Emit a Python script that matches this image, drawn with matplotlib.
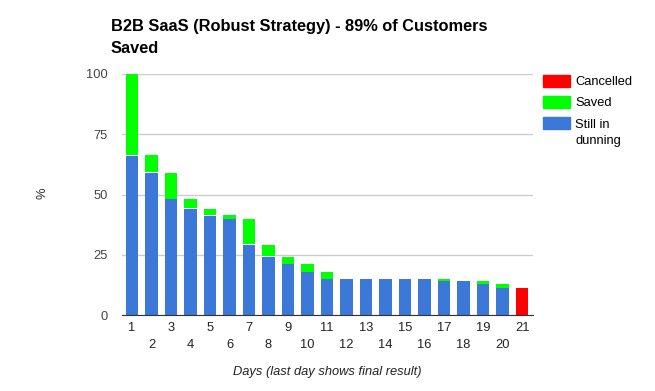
import numpy as np
import matplotlib as mpl
import matplotlib.pyplot as plt
from matplotlib.patches import Patch

mpl.rc('font', **{'family': 'sans-serif', 'sans-serif': ['Liberation Sans', 'DejaVu Sans']})
mpl.rcParams['font.size'] = 9.3

colours = {
    "blue": "#3c78d8",
    "green": "#00ff00",
    "red": "#ff0000",
    "grid": "#cccccc",
    "text": "#222222",
}

days = np.arange(1, 22)
still_in_dunning = [66, 59, 48, 44, 41, 39.7, 29, 24, 21, 17.7, 14.8, 14.8, 14.8, 14.8, 14.8,
                    14.8, 14, 14, 12.7, 11, 0]
saved = [34, 7, 10.6, 4, 2.7, 1.3, 10.6, 4.7, 2.8, 3.2, 2.8, 0, 0, 0, 0,
         0, 0.8, 0, 1.1, 1.6, 0]
cancelled = [0] * 20 + [11]
y_ticks = [0, 25, 50, 75, 100]

fig = plt.figure(figsize=(6.55, 3.91), dpi=100)
ax = fig.add_axes([122 / 655, 1 - 315 / 391, 411 / 655, 241 / 391])

w = 0.63
ax.bar(days, still_in_dunning, width=w, color=colours["blue"], zorder=3)
ax.bar(days, saved, width=w, bottom=np.array(still_in_dunning) + 0.3,
       color=colours["green"], zorder=3)
ax.bar(days, cancelled, width=w, color=colours["red"], zorder=3)

ax.set_xlim(0.49, 21.56)
ax.set_ylim(0, 100)
ax.set_yticks(y_ticks)
ax.grid(axis='y', color=colours["grid"], linewidth=1, zorder=0)
for s in ['top', 'right', 'left']:
    ax.spines[s].set_visible(False)
ax.spines['bottom'].set_color('#333333')
ax.spines['bottom'].set_zorder(4)

# odd days on first row, even days on second row
ax.set_xticks(days[0::2])
ax.set_xticks(days[1::2], minor=True)
ax.set_xticklabels([str(d) for d in days[0::2]])
ax.set_xticklabels([str(d) for d in days[1::2]], minor=True)
ax.tick_params(axis='x', which='major', length=0, pad=5, labelcolor=colours["text"])
ax.tick_params(axis='x', which='minor', length=0, pad=17, labelcolor=colours["text"])
ax.tick_params(axis='y', length=0, pad=10, labelcolor='#444444')

ax.set_xlabel("Days (last day shows final result)", style='italic', labelpad=11,
              color=colours["text"])
fig.text(43 / 655, 1 - 193 / 391, "%", rotation=90, ha='center', va='center',
         color=colours["text"])

fig.text(111 / 655, 1 - 19 / 391, "B2B SaaS (Robust Strategy) - 89% of Customers\nSaved",
         ha='left', va='top', fontsize=11.8, fontweight='bold', linespacing=1.55)

handles = [Patch(color=colours["red"]), Patch(color=colours["green"]), Patch(color=colours["blue"])]
labels = ["Cancelled", "Saved", "Still in"]
leg = fig.legend(handles, labels, loc='upper left', bbox_to_anchor=(543 / 655, 1 - 75 / 391),
                 frameon=False, handlelength=2.1, handleheight=1.0, handletextpad=0.4,
                 labelspacing=0.62, borderaxespad=0, borderpad=0)
# legend label wraps onto a second line
fig.text(576 / 655, 1 - 141 / 391, "dunning", ha='left', va='center')

fig.savefig("out.png", dpi=100)
